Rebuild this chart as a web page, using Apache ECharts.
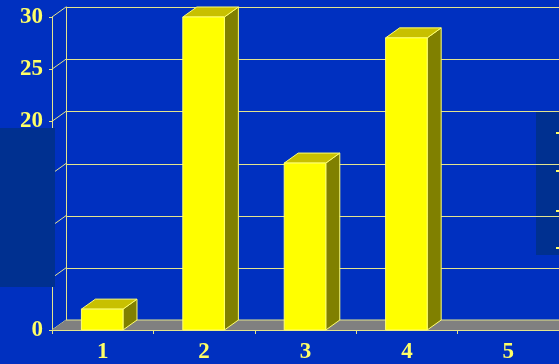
<!DOCTYPE html>
<html>
<head>
<meta charset="utf-8">
<script src="https://cdn.jsdelivr.net/npm/echarts@6/dist/echarts.min.js"></script>
<style>
  html, body { margin: 0; padding: 0; background: #0030c0; }
  #chart { width: 559px; height: 364px; }
</style>
</head>
<body>
<div id="chart"></div>
<script>
// Category labels along the x axis
const categories = ['1', '2', '3', '4', '5'];
// Bar heights per category
const values = [2, 30, 16, 28, 0];
// Value axis ticks
const yTicks = [0, 5, 10, 15, 20, 25, 30];

// depth of the pseudo-3D extrusion (px)
const DX = 14, DY = -10;
const lineCol = '#e4e48c';
const labelFont = { color: '#ffff66', fontFamily: 'Liberation Serif', fontWeight: 'bold', fontSize: 23 };

const chart = echarts.init(document.getElementById('chart'), null, { renderer: 'canvas' });

function renderBar(params, api) {
  const v = api.value(1);
  if (!(v > 0)) return null;
  const base = api.coord([api.value(0), 0]);
  const top = api.coord([api.value(0), v]);
  const band = api.size([1, 0])[0];
  const w = band * 0.41;
  const x0 = base[0] - w / 2 - 0.5;
  const yt = top[1], yb = base[1];
  const edge = { stroke: '#ffff70', lineWidth: 1 };
  return {
    type: 'group',
    children: [
      { type: 'polygon', shape: { points: [[x0 + w, yt], [x0 + w + DX, yt + DY], [x0 + w + DX, yb + DY], [x0 + w, yb]] },
        style: Object.assign({ fill: '#808000' }, edge) },
      { type: 'polygon', shape: { points: [[x0, yt], [x0 + DX, yt + DY], [x0 + w + DX, yt + DY], [x0 + w, yt]] },
        style: Object.assign({ fill: '#c8c000' }, edge) },
      { type: 'rect', shape: { x: x0, y: yt, width: w, height: yb - yt },
        style: Object.assign({ fill: '#ffff00' }, edge) }
    ]
  };
}

function renderFloor(params, api) {
  const cs = params.coordSys;
  const yb = api.coord([0, 0])[1];
  const xl = cs.x, xr = cs.x + cs.width;
  return {
    type: 'group',
    children: [
      { type: 'polygon', shape: { points: [[xl, yb], [xl + DX, yb + DY], [xr + DX, yb + DY], [xr, yb]] },
        style: { fill: '#808080', stroke: null } },
      { type: 'line', shape: { x1: xl + DX, y1: yb + DY, x2: xr + DX, y2: yb + DY },
        style: { stroke: lineCol, lineWidth: 1 } }
    ]
  };
}

function renderDiag(params, api) {
  const cs = params.coordSys;
  const y = api.coord([0, api.value(0)])[1];
  return { type: 'line', shape: { x1: cs.x, y1: y, x2: cs.x + DX, y2: y + DY },
    style: { stroke: lineCol, lineWidth: 1 } };
}

chart.setOption({
  backgroundColor: '#0030c0',
  animation: false,
  grid: [
    { left: 52, right: 0, top: 17, bottom: 33 },
    { left: 52 + DX, right: 0, top: 17 + DY, bottom: 33 - DY }
  ],
  xAxis: [
    { type: 'category', gridIndex: 0, data: categories,
      axisLine: { lineStyle: { color: lineCol, width: 1 } },
      axisTick: { show: true, length: 4, lineStyle: { color: lineCol } },
      axisLabel: Object.assign({ margin: 11 }, labelFont) },
    { type: 'category', gridIndex: 1, data: categories, show: false }
  ],
  yAxis: [
    { type: 'value', gridIndex: 0, min: 0, max: 30, interval: 5,
      axisLine: { show: true, lineStyle: { color: lineCol, width: 1 } },
      axisTick: { show: true, length: 3, lineStyle: { color: lineCol } },
      splitLine: { show: false },
      axisLabel: Object.assign({ margin: 9 }, labelFont) },
    { type: 'value', gridIndex: 1, min: 0, max: 30, interval: 5,
      axisLine: { show: true, lineStyle: { color: lineCol, width: 1 } },
      axisTick: { show: false }, axisLabel: { show: false },
      splitLine: { show: true, lineStyle: { color: lineCol, width: 1 } } }
  ],
  series: [
    { type: 'custom', xAxisIndex: 0, yAxisIndex: 0, data: yTicks.map(v => [v]),
      renderItem: renderDiag, silent: true, z: 1 },
    { type: 'custom', xAxisIndex: 0, yAxisIndex: 0, data: [[0]],
      renderItem: renderFloor, silent: true, z: 2 },
    { type: 'custom', xAxisIndex: 0, yAxisIndex: 0,
      data: values.map((v, i) => [i, v]),
      renderItem: renderBar, z: 3 }
  ],
  graphic: [
    { type: 'rect', left: 0, top: 128, shape: { width: 55, height: 159 },
      style: { fill: '#003090' }, z: 100 },
    { type: 'group', left: 536, top: 112, z: 100, children: [
      { type: 'rect', shape: { x: 0, y: 0, width: 23, height: 143 }, style: { fill: '#003090' } },
      { type: 'rect', shape: { x: 20, y: 20, width: 3, height: 2 }, style: { fill: '#ffff66' } },
      { type: 'rect', shape: { x: 20, y: 58, width: 3, height: 2 }, style: { fill: '#ffff66' } },
      { type: 'rect', shape: { x: 20, y: 98, width: 3, height: 2 }, style: { fill: '#ffff66' } },
      { type: 'rect', shape: { x: 20, y: 135, width: 3, height: 2 }, style: { fill: '#ffff66' } }
    ] }
  ]
});
</script>
</body>
</html>
